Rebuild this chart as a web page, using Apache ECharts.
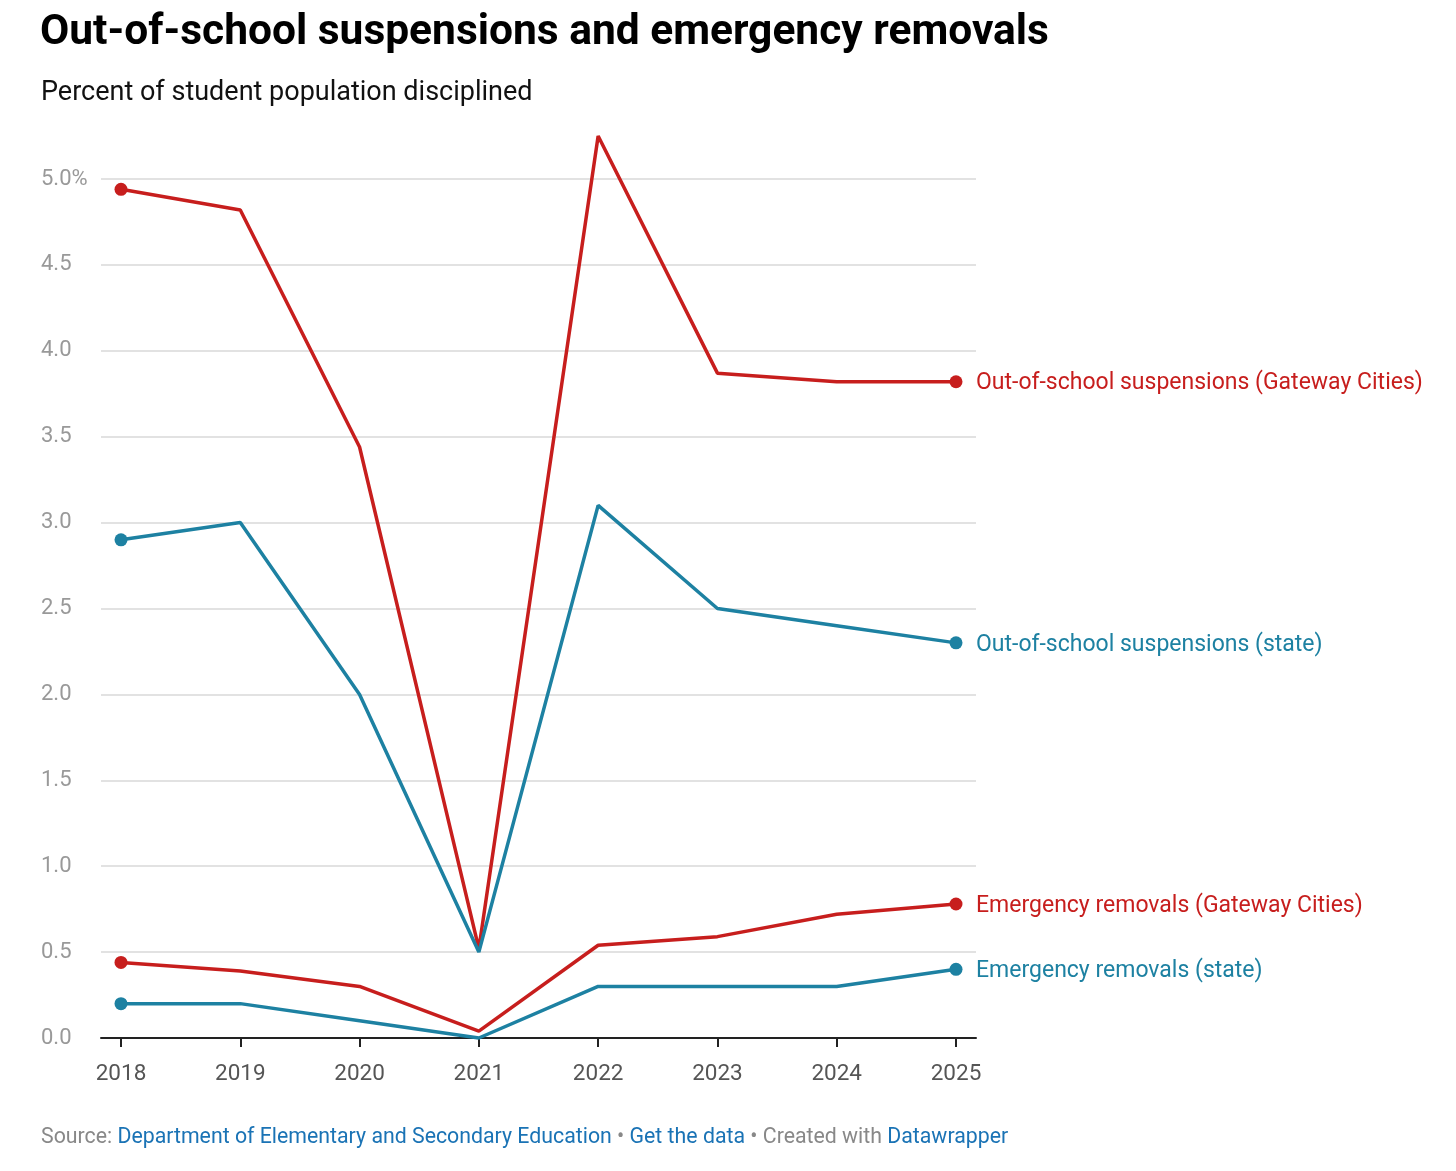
<!DOCTYPE html>
<html lang="en">
<head>
<meta charset="UTF-8">
<title>Out-of-school suspensions and emergency removals</title>
<script src="https://cdn.jsdelivr.net/npm/echarts@6/dist/echarts.min.js"></script>
<style>
  html, body { margin: 0; padding: 0; background: #fff; }
  #main { width: 1456px; height: 1171px; }
</style>
</head>
<body>
<div id="main"></div>
<script type="text/javascript">
// school years
var years = [2018, 2019, 2020, 2021, 2022, 2023, 2024, 2025];
// percent of students disciplined
var oosGateway = [4.94, 4.82, 3.44, 0.52, 5.25, 3.87, 3.82, 3.82];
var oosState = [2.9, 3.0, 2.0, 0.5, 3.1, 2.5, 2.4, 2.3];
var erGateway = [0.44, 0.39, 0.30, 0.04, 0.54, 0.59, 0.72, 0.78];
var erState = [0.2, 0.2, 0.1, 0.0, 0.3, 0.3, 0.3, 0.4];
var yTicks = [0, 0.5, 1, 1.5, 2, 2.5, 3, 3.5, 4, 4.5, 5];

var red = '#c71e1d';
var blue = '#1d81a2';

function pairs(vals) {
    return years.map(function (y, i) { return [y, vals[i]]; });
}

function makeSeries(name, vals, color) {
    var last = vals.length - 1;
    return {
        name: name,
        type: 'line',
        data: pairs(vals),
        clip: false,
        color: color,
        lineStyle: { width: 3.5, color: color },
        symbol: 'circle',
        showSymbol: true,
        showAllSymbol: true,
        symbolSize: function (v, p) {
            return (p.dataIndex === 0 || p.dataIndex === last) ? 13 : 0;
        },
        itemStyle: { color: color },
        endLabel: {
            show: true,
            formatter: name,
            color: color,
            fontSize: 23,
            fontFamily: 'Roboto',
            distance: 20,
            offset: [0, 2]
        },
        emphasis: { disabled: true },
        animation: false
    };
}

var chart = echarts.init(document.getElementById('main'));
var option = {
    backgroundColor: '#fff',
    textStyle: { fontFamily: 'Roboto' },
    title: [{
        text: 'Out-of-school suspensions and emergency removals',
        left: 40,
        top: 12,
        padding: 0,
        textStyle: { fontSize: 42.5, fontWeight: 'bold', color: '#000', fontFamily: 'Roboto' }
    }, {
        text: 'Percent of student population disciplined',
        left: 41,
        top: 80,
        padding: 0,
        textStyle: { fontSize: 27, fontWeight: 'normal', color: '#111', fontFamily: 'Roboto' }
    }],
    grid: { left: 101, right: 480, top: 179, bottom: 133 },
    xAxis: {
        type: 'value',
        min: 2018 - 20 / 119.3,
        max: 2025 + 20 / 119.3,
        splitLine: { show: false },
        axisLine: { show: true, lineStyle: { color: '#222', width: 2 } },
        axisTick: { show: true, customValues: years, length: 9, lineStyle: { color: '#222', width: 2 } },
        axisLabel: {
            customValues: years,
            formatter: function (v) { return String(Math.round(v)); },
            fontSize: 22.5,
            color: '#555',
            margin: 25
        }
    },
    yAxis: {
        type: 'value',
        min: 0,
        max: 5,
        interval: 0.5,
        axisLine: { show: false },
        axisTick: { show: false },
        splitLine: { lineStyle: { color: '#e2e2e2', width: 2 } },
        axisLabel: {
            customValues: yTicks,
            formatter: function (v) { return v === 5 ? '5.0%' : v.toFixed(1); },
            align: 'left',
            margin: 60,
            fontSize: 22,
            color: '#999',
            lineHeight: 28,
            verticalAlign: 'middle'
        }
    },
    graphic: [{
        type: 'text',
        left: 41,
        top: 1127,
        style: {
            text: '{g|Source: }{b|Department of Elementary and Secondary Education}{g| • }{b|Get the data}{g| • Created with }{b|Datawrapper}',
            rich: {
                g: { fill: '#888', fontSize: 21.3, fontFamily: 'Roboto' },
                b: { fill: '#1a73b5', fontSize: 21.3, fontFamily: 'Roboto' }
            }
        }
    }],
    series: [
        makeSeries('Out-of-school suspensions (Gateway Cities)', oosGateway, red),
        makeSeries('Out-of-school suspensions (state)', oosState, blue),
        makeSeries('Emergency removals (Gateway Cities)', erGateway, red),
        makeSeries('Emergency removals (state)', erState, blue)
    ]
};
chart.setOption(option);
</script>
</body>
</html>
